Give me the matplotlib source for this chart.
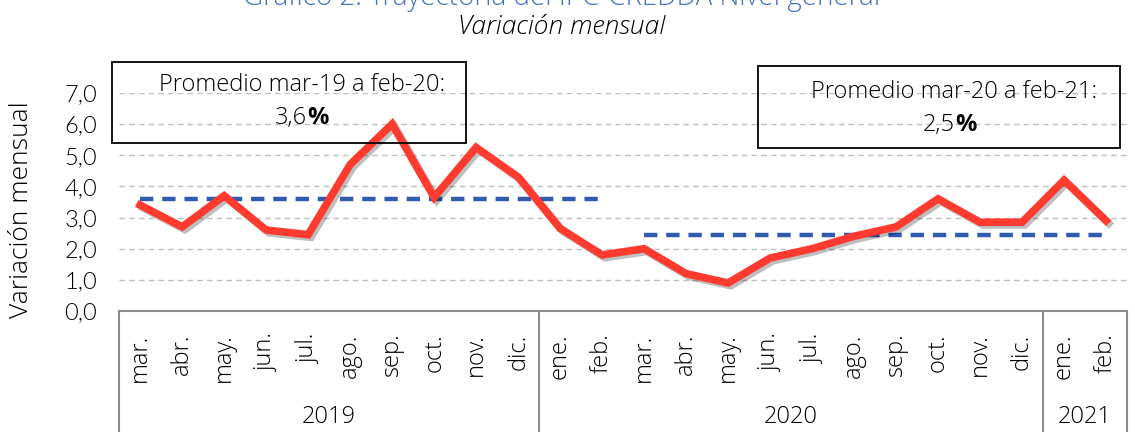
import numpy as np
import matplotlib.pyplot as plt
import matplotlib.patheffects as pe
from matplotlib.patches import Rectangle
from matplotlib.transforms import blended_transform_factory

# monthly variation (%)
months = ["mar.", "abr.", "may.", "jun.", "jul.", "ago.", "sep.", "oct.", "nov.", "dic.",
          "ene.", "feb.", "mar.", "abr.", "may.", "jun.", "jul.", "ago.", "sep.", "oct.",
          "nov.", "dic.", "ene.", "feb."]
years = ["2019", "2020", "2021"]
year_counts = [10, 12, 2]
values = [3.4, 2.7, 3.7, 2.6, 2.45, 4.7, 6.0, 3.65, 5.25, 4.3,
          2.65, 1.8, 2.0, 1.2, 0.9, 1.7, 2.0, 2.4, 2.7, 3.6,
          2.85, 2.85, 4.2, 2.9]
avg_1 = 3.6  # mar-19 a feb-20
avg_2 = 2.45  # mar-20 a feb-21
avg_1_range = (0, 11)
avg_2_range = (12, 23)

plt.rcParams['font.family'] = ['Open Sans', 'DejaVu Sans']
LIGHT = 300

fig = plt.figure(figsize=(11.35, 4.32), dpi=100)
ax = fig.add_axes([0.105, 0.28, 0.888, 0.505])

x = np.arange(len(values))

# grid
ax.set_ylim(0, 7)
ax.set_xlim(-0.5, len(values) - 0.5)
ax.set_yticks(np.arange(0, 8, 1))
ax.set_yticklabels([f"{v:.1f}".replace(".", ",") for v in range(8)], fontsize=17, fontweight=LIGHT,
                   family=['Lato', 'DejaVu Sans'])
ax.yaxis.grid(True, linestyle=(0, (4, 3)), color="#c0c0c0", linewidth=1)
ax.set_axisbelow(True)
ax.tick_params(axis='y', length=0, pad=16)

# lines
ax.plot(x[avg_1_range[0]:avg_1_range[1] + 1], [avg_1] * (avg_1_range[1] - avg_1_range[0] + 1),
        color="#2f5cae", linewidth=3.2, linestyle=(0, (3, 2)), zorder=3)
ax.plot(x[avg_2_range[0]:avg_2_range[1] + 1], [avg_2] * (avg_2_range[1] - avg_2_range[0] + 1),
        color="#2f5cae", linewidth=3.2, linestyle=(0, (3, 2)), zorder=3)
ax.plot(x, values, color="#ff3b30", linewidth=5.5, solid_joinstyle='miter', zorder=4,
        path_effects=[pe.SimpleLineShadow(offset=(2, -2), alpha=0.25), pe.Normal()])

for s in ["top", "right", "left"]:
    ax.spines[s].set_visible(False)
ax.spines["bottom"].set_color("#8c8c8c")
ax.spines["bottom"].set_linewidth(1.5)

# month labels
ax.set_xticks(x)
ax.set_xticklabels(months, rotation=90, fontsize=17, fontweight=LIGHT, va='top')
ax.tick_params(axis='x', length=0, pad=16)

# year labels and dividers
trans = blended_transform_factory(ax.transData, ax.transAxes)
start = -0.5
bounds = [start]
for yr, n in zip(years, year_counts):
    ax.text(start + n / 2, -0.485, yr, transform=trans, ha='center', va='center',
            fontsize=17, fontweight=LIGHT)
    start += n
    bounds.append(start)
for b in bounds:
    ax.plot([b, b], [0, -0.6], transform=trans, color="#8c8c8c", linewidth=1.5, clip_on=False)

fig.text(22 / 1135, 1 - 210 / 432, "Variación mensual", rotation=90, ha='center', va='center',
         fontsize=19, fontweight=LIGHT)

# annotation boxes
fig.patches.append(Rectangle((112 / 1135, 1 - 143 / 432), 354 / 1135, 81 / 432,
                             transform=fig.transFigure, facecolor='none',
                             edgecolor='black', linewidth=1.3, zorder=5))
fig.patches.append(Rectangle((758 / 1135, 1 - 148 / 432), 362 / 1135, 82 / 432,
                             transform=fig.transFigure, facecolor='none',
                             edgecolor='black', linewidth=1.3, zorder=5))
fig.text(302 / 1135, 1 - 85 / 432, "Promedio mar-19 a feb-20:", ha='center', va='center',
         fontsize=17, fontweight=LIGHT)
fig.text(307 / 1135, 1 - 118 / 432, "3,6", ha='right', va='center', fontsize=17, fontweight=LIGHT)
fig.text(307 / 1135, 1 - 118 / 432, "%", ha='left', va='center', fontsize=17, fontweight='bold')
fig.text(954 / 1135, 1 - 92 / 432, "Promedio mar-20 a feb-21:", ha='center', va='center',
         fontsize=17, fontweight=LIGHT)
fig.text(955 / 1135, 1 - 125 / 432, "2,5", ha='right', va='center', fontsize=17, fontweight=LIGHT)
fig.text(955 / 1135, 1 - 125 / 432, "%", ha='left', va='center', fontsize=17, fontweight='bold')

# title
fig.text(0.495, 1 + 2 / 432, "Gráfico 2. Trayectoria del IPC-CREDDA Nivel general", ha='center',
         va='center', fontsize=20, color="#4472c4", fontweight=LIGHT)
fig.text(0.495, 1 - 28 / 432, "Variación mensual", ha='center', va='center', fontsize=19,
         style='italic', fontweight=LIGHT)

fig.savefig("out.png", dpi=100)
